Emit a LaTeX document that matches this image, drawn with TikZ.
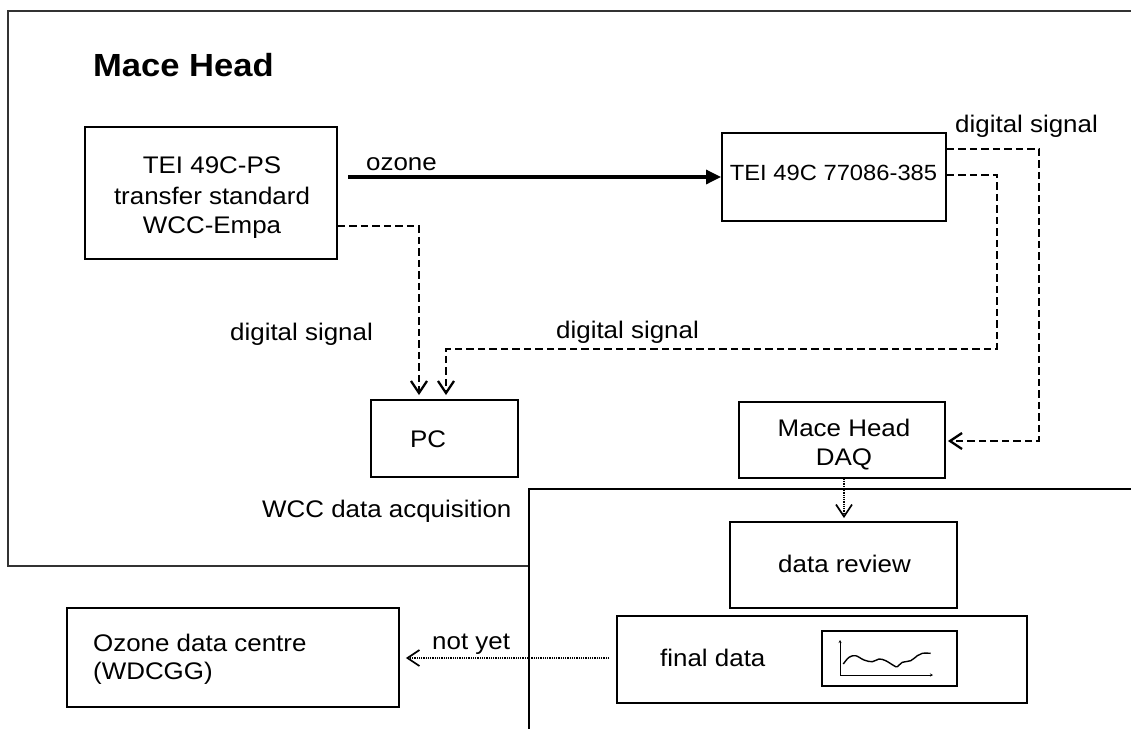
\documentclass[tikz,border=0pt]{standalone}
\usepackage{fontspec}
\setmainfont{Liberation Sans}[FakeStretch=1.08]
\usetikzlibrary{arrows.meta}
\begin{document}
\begin{tikzpicture}[x=1pt,y=-1pt,
  box/.style={draw, line width=1.9pt, inner sep=0pt, rectangle},
  txt/.style={font=\fontsize{24}{29}\selectfont, inner sep=0pt, anchor=base},
  txtl/.style={txt, anchor=base west},
  framel/.style={draw=black!80, line width=1.7pt},
  regionl/.style={draw=black, line width=1.4pt},
  dsh/.style={line width=2.3pt, dash pattern=on 7.5pt off 4pt},
  dotl/.style={line width=1.7pt, dash pattern=on 1pt off 0.8pt},
  vtip/.style={-{Straight Barb[length=12pt,width=16pt]}},
  ftip/.style={-{Triangle[length=15pt,width=14pt]}},
]
\useasboundingbox (0,0) rectangle (1131,729);
\fill[white] (0,0) rectangle (1131,729);

% frames
\draw[framel] (1131,11) -- (8,11) -- (8,566) -- (529,566);
\draw[regionl] (1131,489) -- (529,489) -- (529,729);

% title
\node[font=\bfseries\fontsize{32}{36}\selectfont, inner sep=0pt, anchor=base west] (title) at (93,76) {Mace Head};

% boxes
\node[box, minimum width=252pt, minimum height=132pt] (tei) at (211,193) {};
\node[box, minimum width=224pt, minimum height=88pt] (tei49) at (834,177) {};
\node[box, minimum width=147pt, minimum height=77pt] (pc) at (444.5,438.5) {};
\node[box, minimum width=206pt, minimum height=76pt] (daq) at (842,440) {};
\node[box, minimum width=227pt, minimum height=86pt] (review) at (843.5,565) {};
\node[box, minimum width=410pt, minimum height=87pt] (final) at (822,659.5) {};
\node[box, minimum width=135pt, minimum height=55pt] (chart) at (889.5,658.5) {};
\node[box, minimum width=332pt, minimum height=99pt] (ozc) at (233,657.5) {};

% box texts
\node[txt] (teia) at (212,173) {TEI 49C-PS};
\node[txt] (teib) at (212,204) {transfer standard};
\node[txt] (teic) at (212,233) {WCC-Empa};
\node[txt, font=\fontsize{22}{26}\selectfont] (tei49t) at (833.5,180) {TEI 49C 77086-385};
\node[txtl] (pct) at (410,447) {PC};
\node[txt] (daqa) at (844,436) {Mace Head};
\node[txt] (daqb) at (844,465) {DAQ};
\node[txt] (reviewt) at (844.5,572) {data review};
\node[txtl] (finalt) at (660,666) {final data};
\node[txtl] (ozca) at (93,651) {Ozone data centre};
\node[txtl] (ozcb) at (93,679) {(WDCGG)};

% labels
\node[txtl] (lozone) at (366,170) {ozone};
\node[txtl] (ldig1) at (955,132) {digital signal};
\node[txtl] (ldig2) at (230,340) {digital signal};
\node[txtl] (ldig3) at (556,338) {digital signal};
\node[txtl] (lwcc) at (262,517) {WCC data acquisition};
\node[txtl] (lnot) at (432,649) {not yet};

% connectors
\coordinate (ozs) at (348,177);
\draw[line width=3.2pt, ftip] (ozs) -- (tei49.west);

\draw[dsh, vtip] ([yshift=-33pt]tei.east) -| ([xshift=-25.5pt,yshift=4pt]pc.north);

\coordinate (r1) at (997,349);
\draw[dsh, vtip] ([yshift=2pt]tei49.east) -| (r1) -| ([xshift=1.5pt,yshift=4pt]pc.north);

\coordinate (r2) at (1039,441);
\draw[dsh, vtip, shorten >=2pt] ([yshift=28pt]tei49.east) -| (r2) -- (daq.east |- r2);

\draw[dotl, vtip, shorten >=3pt] ([xshift=2pt]daq.south) -- ([xshift=0.5pt]review.north);

\draw[dotl, vtip, shorten >=6pt] ([xshift=-7pt,yshift=1.5pt]final.west) -- ([yshift=-0.5pt]ozc.east);

% chart contents
\coordinate (ax0) at (840,675);
\draw[line width=1pt, -{Stealth[length=3pt,width=3pt]}] (ax0) -- (840,640);
\draw[line width=1pt, -{Stealth[length=3pt,width=3pt]}] (ax0) -- (933,675);
\draw[line width=1.4pt, line join=round] plot[smooth, tension=0.6] coordinates {
 (843.3,664) (849,657.3) (855.7,655.7) (864,660) (872.3,661.7) (879,659)
 (885.7,660.7) (894,665.7) (897.3,666.7) (902.3,662.3) (910.7,660.7)
 (917.3,655.7) (922.3,653.3) (930.7,653.3)};
\end{tikzpicture}
\end{document}
